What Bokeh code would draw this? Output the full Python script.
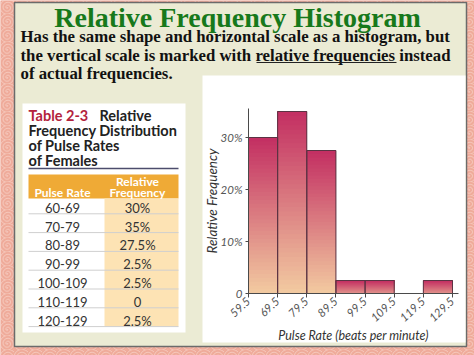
import numpy as np
from bokeh.plotting import figure
from bokeh.models import Range1d, LinearAxis, FixedTicker, ColumnDataSource
from bokeh.core.properties import value
from bokeh.embed import file_html
from bokeh.resources import INLINE

# ---------------- data ----------------
title_text = "Relative Frequency Histogram"
body_lines = [
    "Has the same shape and horizontal scale as a histogram, but",
    "the vertical scale is marked with relative frequencies instead",
    "of actual frequencies.",
]
table_title_red = "Table 2-3"
table_title_lines = ["Relative", "Frequency Distribution", "of Pulse Rates", "of Females"]
col_headers = ["Pulse Rate", "Relative", "Frequency"]
pulse_classes = ["60-69", "70-79", "80-89", "90-99", "100-109", "110-119", "120-129"]
rel_freq = [30, 35, 27.5, 2.5, 2.5, 0, 2.5]
bin_edges = [59.5, 69.5, 79.5, 89.5, 99.5, 109.5, 119.5, 129.5]
y_ticks = [0, 10, 20, 30]
y_tick_labels = ["0", "10%", "20%", "30%"]
x_label = "Pulse Rate (beats per minute)"
y_label = "Relative Frequency"

# ---------------- canvas ----------------
W, H = 474, 355
p = figure(width=W, height=H, x_range=Range1d(0, W), y_range=Range1d(H, 0),
           output_backend="svg", toolbar_location=None, min_border=0,
           x_axis_type=None, y_axis_type=None)
p.outline_line_color = None
p.background_fill_color = "#f0b2a3"
p.border_fill_color = "#f0b2a3"

# floral-ish background texture
p.quad(left=0, right=W, top=0, bottom=H, fill_color="#efab9a", line_color=None,
       hatch_pattern="spiral", hatch_color="#fbe3dc", hatch_alpha=0.55, hatch_scale=14)

# slide panel
p.quad(left=14, right=466, top=2, bottom=346, fill_color="#ebebd4",
       line_color="#6b6b6b", line_width=1.5)

serif = value("Liberation Serif")
sans = value("Lato")

# title
p.text(x=[237], y=[17], text=[title_text], text_font=serif, text_font_size="28px",
       text_font_style="bold", text_color="#17791b", text_align="center",
       text_baseline="middle")
# body
p.text(x=[20, 20, 20], y=[35.5, 54.5, 73.3], text=body_lines, text_font=serif,
       text_font_size="16.8px", text_font_style="bold", text_color="#111111",
       text_align="left", text_baseline="middle")
p.segment(x0=[256], y0=[62], x1=[396], y1=[62], line_color="#222222", line_width=1.2)

# ---------------- table ----------------
p.quad(left=22, right=185, top=103, bottom=332, fill_color="white", line_color=None)
p.text(x=[28], y=[115], text=[table_title_red], text_font=sans, text_font_size="14.5px",
       text_font_style="bold", text_color="#b3233c", text_baseline="middle")
p.text(x=[99, 28, 28, 28], y=[115, 130, 145, 159.5], text=table_title_lines, text_font=sans,
       text_font_size="14.5px", text_font_style="bold", text_color="#222222",
       text_baseline="middle")
p.segment(x0=[28], y0=[168], x1=[178], y1=[168], line_color="#4c4c6c", line_width=1.5)
p.quad(left=28, right=178, top=174, bottom=198, fill_color="#efaa36", line_color=None)
p.quad(left=104, right=178, top=198, bottom=326, fill_color="#fde3b4", line_color=None)
p.text(x=[62, 137, 137], y=[192, 180.5, 192], text=col_headers, text_font=sans,
       text_font_size="12px", text_font_style="bold", text_color="white",
       text_align="center", text_baseline="middle")
n = len(pulse_classes)
sep_y = [213.3 + 18.8 * k for k in range(n)]
p.segment(x0=[28] * n, y0=sep_y, x1=[178] * n, y1=sep_y, line_color="#cfcfcf", line_width=1)
row_y = [s - 6 for s in sep_y]
freq_text = [f"{v:g}%" if v else "0" for v in rel_freq]
p.text(x=[62] * n, y=row_y, text=pulse_classes, text_font=sans, text_font_size="13px",
       text_color="#333333", text_align="center", text_baseline="middle")
p.text(x=[137] * n, y=row_y, text=freq_text, text_font=sans, text_font_size="13px",
       text_color="#333333", text_align="center", text_baseline="middle")

# ---------------- histogram ----------------
p.quad(left=202, right=465, top=75, bottom=342, fill_color="white", line_color=None)

px_per_x = 204 / 70
x0_px = 248
px_per_y = 5.2
y0_px = 293
p.extra_x_ranges = {"hx": Range1d(bin_edges[0] - x0_px / px_per_x,
                                  bin_edges[0] + (W - x0_px) / px_per_x)}
p.extra_y_ranges = {"hy": Range1d(-(H - y0_px) / px_per_y, y0_px / px_per_y)}

dark = np.array([194, 44, 97])
light = np.array([242, 201, 160])
N = 40
g = dict(left=[], right=[], bottom=[], top=[], color=[])
for lo, hi, h in zip(bin_edges[:-1], bin_edges[1:], rel_freq):
    if h <= 0:
        continue
    mix = min(1.0, 0.55 + h / 25)
    for k in range(N):
        f = k / N
        c = dark + (light - dark) * mix * (1 - f)
        g["left"].append(lo)
        g["right"].append(hi)
        g["bottom"].append(h * f)
        g["top"].append(h)
        g["color"].append("#%02x%02x%02x" % tuple(int(round(v)) for v in c))
p.quad(left="left", right="right", bottom="bottom", top="top", fill_color="color",
       line_color=None, source=ColumnDataSource(g), x_range_name="hx", y_range_name="hy")
nz = [i for i, v in enumerate(rel_freq) if v > 0]
p.quad(left=[bin_edges[i] for i in nz], right=[bin_edges[i + 1] for i in nz],
       bottom=[0] * len(nz), top=[rel_freq[i] for i in nz], fill_color=None,
       line_color="#5a3343", line_width=1, x_range_name="hx", y_range_name="hy")

axis_color = "#4a4a4a"
label_color = "#555555"
xax = LinearAxis(x_range_name="hx", y_range_name="hy", fixed_location=0,
                 ticker=FixedTicker(ticks=bin_edges), bounds=(bin_edges[0], 131.6))
xax.major_label_overrides = {e: f"{e:g}" for e in bin_edges}
xax.major_label_orientation = 0.75
xax.major_tick_in = 0
xax.major_tick_out = 4
xax.minor_tick_out = 0
xax.minor_tick_in = 0
xax.axis_line_color = axis_color
xax.major_tick_line_color = axis_color
xax.major_label_text_font = "Lato"
xax.major_label_text_font_style = "italic"
xax.major_label_text_font_size = "11.5px"
xax.major_label_text_color = label_color
xax.major_label_standoff = 2
xax.axis_label = x_label
xax.axis_label_text_font = "Lato"
xax.axis_label_text_font_style = "italic"
xax.axis_label_text_font_size = "12.5px"
xax.axis_label_text_color = "#333333"
xax.axis_label_standoff = 0
p.add_layout(xax, "below")

yax = LinearAxis(x_range_name="hx", y_range_name="hy", fixed_location=bin_edges[0],
                 ticker=FixedTicker(ticks=y_ticks), bounds=(0, 35.5))
yax.major_label_overrides = dict(zip(y_ticks, y_tick_labels))
yax.major_label_orientation = "horizontal"
yax.major_tick_in = 0
yax.major_tick_out = 3
yax.minor_tick_out = 0
yax.minor_tick_in = 0
yax.axis_line_color = axis_color
yax.major_tick_line_color = axis_color
yax.major_label_text_font = "Lato"
yax.major_label_text_font_style = "italic"
yax.major_label_text_font_size = "11.5px"
yax.major_label_text_color = label_color
yax.major_label_standoff = 3
yax.axis_label = y_label
yax.axis_label_text_font = "Lato"
yax.axis_label_text_font_style = "italic"
yax.axis_label_text_font_size = "13.5px"
yax.axis_label_text_color = "#333333"
yax.axis_label_standoff = -2
p.add_layout(yax, "left")

open("out.html", "w").write(file_html(p, INLINE))
